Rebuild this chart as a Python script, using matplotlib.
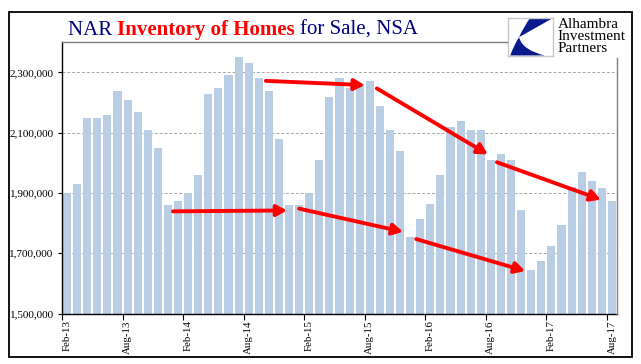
import matplotlib
matplotlib.use("Agg")
import matplotlib.pyplot as plt
from matplotlib.patches import Rectangle, PathPatch
from matplotlib.path import Path
from matplotlib.lines import Line2D
from matplotlib.ticker import FuncFormatter

plt.rcParams['font.family'] = ['Liberation Serif', 'DejaVu Serif']

# monthly NAR inventory, Feb-13 .. Aug-17
months = ['Feb-13', 'Mar-13', 'Apr-13', 'May-13', 'Jun-13', 'Jul-13', 'Aug-13', 'Sep-13', 'Oct-13', 'Nov-13', 'Dec-13',
          'Jan-14', 'Feb-14', 'Mar-14', 'Apr-14', 'May-14', 'Jun-14', 'Jul-14', 'Aug-14', 'Sep-14', 'Oct-14', 'Nov-14', 'Dec-14',
          'Jan-15', 'Feb-15', 'Mar-15', 'Apr-15', 'May-15', 'Jun-15', 'Jul-15', 'Aug-15', 'Sep-15', 'Oct-15', 'Nov-15', 'Dec-15',
          'Jan-16', 'Feb-16', 'Mar-16', 'Apr-16', 'May-16', 'Jun-16', 'Jul-16', 'Aug-16', 'Sep-16', 'Oct-16', 'Nov-16', 'Dec-16',
          'Jan-17', 'Feb-17', 'Mar-17', 'Apr-17', 'May-17', 'Jun-17', 'Jul-17', 'Aug-17']
inventory = [1900000, 1930000, 2150000, 2150000, 2160000, 2240000, 2210000, 2170000, 2110000, 2050000, 1860000,
             1875000, 1900000, 1960000, 2230000, 2250000, 2290000, 2350000, 2330000, 2280000, 2240000, 2080000, 1860000,
             1860000, 1900000, 2010000, 2220000, 2280000, 2250000, 2260000, 2270000, 2190000, 2110000, 2040000, 1755000,
             1815000, 1865000, 1960000, 2120000, 2140000, 2110000, 2110000, 2010000, 2030000, 2010000, 1845000, 1645000,
             1675000, 1725000, 1795000, 1920000, 1970000, 1940000, 1915000, 1875000]
y_ticks = [1500000, 1700000, 1900000, 2100000, 2300000]

# trend arrows: (x0, y0, x1, y1) in bar-index / value units
arrows = [(10.5, 1839000, 21.8, 1842000),
          (23.0, 1848000, 33.3, 1771000),
          (34.6, 1747000, 45.4, 1641000),
          (19.7, 2272000, 29.5, 2258000),
          (30.7, 2247000, 41.7, 2028000),
          (42.6, 2002000, 52.9, 1878000)]

fig = plt.figure(figsize=(6.41, 3.64), dpi=100)
ax = fig.add_axes([62/641, 1-313.5/364, 555/641, 271.2/364])

x = list(range(len(months)))
ax.bar(x, inventory, width=0.8, color='#B9CDE5', zorder=2)

ax.set_xlim(-0.5, len(months) - 0.5)
ax.set_ylim(1500000, 2400000)
ax.set_yticks(y_ticks)
ax.yaxis.set_major_formatter(FuncFormatter(lambda v, p: f'{v:,.0f}'))
ax.tick_params(axis='y', length=3, width=0.8, pad=3, labelsize=8, direction='out')
for v in y_ticks[1:]:
    ax.axhline(v, color='#A6A6A6', lw=0.7, ls=(0, (3, 2)), zorder=1)

ax.set_xticks(x[::6])
ax.set_xticklabels(months[::6], rotation=90, fontsize=7.8)
ax.set_xticks([i - 0.5 for i in x[::6]], minor=True)
ax.tick_params(axis='x', which='major', length=0, pad=5)
ax.tick_params(axis='x', which='minor', length=4, width=0.8, direction='out')

for s in ['top', 'right']:
    ax.spines[s].set_visible(False)
for s in ['left', 'bottom']:
    ax.spines[s].set_color('black')
    ax.spines[s].set_linewidth(1.0)

for x0, y0, x1, y1 in arrows:
    ax.annotate('', xy=(x1, y1), xytext=(x0, y0),
                arrowprops=dict(arrowstyle='-|>,head_length=0.6,head_width=0.33',
                                color='#FF0000', lw=2.8, shrinkA=0, shrinkB=0),
                zorder=5)

# frame pieces
fig.add_artist(Line2D([62/641, 507/641], [1-42.3/364, 1-42.3/364], color='#7F7F7F', lw=1.0))
fig.add_artist(Line2D([616.5/641, 616.5/641], [1-58/364, 1-313.5/364], color='#7F7F7F', lw=1.0))
fig.add_artist(Rectangle((9/641, 1-357/364), 623/641, 345/364, transform=fig.transFigure,
                         fill=False, edgecolor='black', lw=1.3))

# title
navy = '#000080'
t1 = fig.text(68/641, 1-35/364, 'NAR ', fontsize=15, color=navy, va='baseline')
t2 = ax.annotate('Inventory of Homes ', xycoords=t1, xy=(1, 0), va='bottom',
                 fontsize=15, color='#FF0000', fontweight='bold', annotation_clip=False)
t3 = ax.annotate('for Sale, NSA', xycoords=t2, xy=(1, 0), va='bottom',
                 fontsize=15, color=navy, annotation_clip=False)

# logo
lax = fig.add_axes([508/641, 1-55.5/364, 45/641, 37.5/364])
lax.set_xlim(0, 1)
lax.set_ylim(0, 1)
lax.set_xticks([])
lax.set_yticks([])
for s in lax.spines.values():
    s.set_color('#C8C8C8')
    s.set_linewidth(1.0)
C3, L2 = Path.CURVE3, Path.LINETO
upper = Path([(0.49, 1.0), (1.0, 1.0), (0.5, 0.66), (0.245, 0.49), (0.36, 0.78), (0.49, 1.0)],
             [Path.MOVETO, L2, C3, C3, C3, C3])
lower = Path([(0.245, 0.49), (0.12, 0.25), (0.05, 0.0), (0.82, 0.0), (0.32, 0.14), (0.245, 0.49)],
             [Path.MOVETO, C3, C3, L2, C3, C3])
lax.add_patch(PathPatch(upper, facecolor='#0A1A8C', edgecolor='none'))
lax.add_patch(PathPatch(lower, facecolor='#0A1A8C', edgecolor='none'))
for i, word in enumerate(['Alhambra', 'Investment', 'Partners']):
    fig.text(557.5/641, 1-(28.5 + 11.5*i)/364, word, fontsize=11, color='black', va='baseline')

fig.savefig('out.png', dpi=100)
